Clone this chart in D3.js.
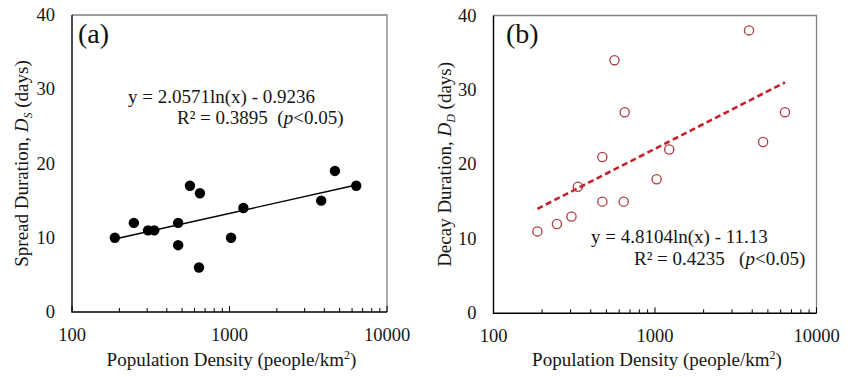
<!DOCTYPE html>
<html><head><meta charset="utf-8">
<script src="https://cdn.jsdelivr.net/npm/d3@7"></script>
<style>
html,body{margin:0;padding:0;background:#fff;}
svg{display:block;}
svg text{font-family:"Liberation Serif","Times New Roman",serif;}
</style></head>
<body>
<svg id="chart" width="850" height="377"></svg>
<script>
// ---- data ----
const density = [187, 247, 304, 333, 472, 472, 561, 649, 640, 1023, 1225, 3820, 4670, 6380];
const spreadDays = [10, 12, 11, 11, 12, 9, 17, 16, 6, 10, 14, 15, 19, 17];
const decayDays = [11, 12, 13, 17, 21, 15, 34, 27, 15, 18, 22, 38, 23, 27];
const fitSpread = [2.0571, -0.9236];
const fitDecay = [4.8104, -11.13];
const xTickValues = [100, 1000, 10000];
const yTickValues = [0, 10, 20, 30, 40];
const panelLabels = ["(a)", "(b)"];
const eqTexts = ["y = 2.0571ln(x) - 0.9236", "y = 4.8104ln(x) - 11.13"];
const r2Texts = [["R² = 0.3895  (", "p", "<0.05)"], ["R² = 0.4235   (", "p", "<0.05)"]];
const yTitles = [["Spread Duration, ", "D", "S", " (days)"], ["Decay Duration, ", "D", "D", " (days)"]];
const xTitle = "Population Density (people/km";

const svg = d3.select("#chart");
const ink = "#151515";

const panels = [
  {L: 72, R: 387, T: 15, B: 312, ys: spreadDays, fit: fitSpread, filled: true,
   eq: [128, 103], r2: [177, 124], yLabX: 28, lab: [78, 43]},
  {L: 493.5, R: 816.5, T: 15.5, B: 313.3, ys: decayDays, fit: fitDecay, filled: false,
   eq: [591, 243], r2: [634, 265], yLabX: 451, lab: [506, 43]}
];

panels.forEach((p, i) => {
  const g = svg.append("g");
  const x = d3.scaleLog().domain([100, 10000]).range([p.L, p.R]);
  const y = d3.scaleLinear().domain([0, 40]).range([p.B, p.T]);

  g.append("path")
    .attr("d", `M${p.L},${p.T}H${p.R}V${p.B}`)
    .attr("fill", "none").attr("stroke", "#808080").attr("stroke-width", 1.3);

  const minor = [];
  for (let d = 100; d < 10000; d *= 10) for (let k = 2; k <= 9; k++) minor.push(d * k);
  g.selectAll(".mt").data(minor).join("line")
    .attr("x1", d => x(d)).attr("x2", d => x(d))
    .attr("y1", p.B).attr("y2", p.B - 4)
    .attr("stroke", "#000").attr("stroke-width", 1);
  g.selectAll(".Mt").data(xTickValues).join("line")
    .attr("x1", d => x(d)).attr("x2", d => x(d))
    .attr("y1", p.B).attr("y2", p.B - 6)
    .attr("stroke", "#000").attr("stroke-width", 1);

  g.append("path")
    .attr("d", `M${p.L},${p.T}V${p.B}H${p.R}`)
    .attr("fill", "none").attr("stroke", "#000").attr("stroke-width", 1.4);

  g.selectAll(".xl").data(xTickValues).join("text")
    .attr("x", d => x(d)).attr("y", p.B + 29)
    .attr("text-anchor", "middle").attr("font-size", 18.5).attr("fill", ink)
    .text(d => d);
  g.selectAll(".yl").data(yTickValues).join("text")
    .attr("x", p.L - 17).attr("y", d => y(d) + 6)
    .attr("text-anchor", "end").attr("font-size", 18.5).attr("fill", ink)
    .text(d => d);

  const xt = g.append("text")
    .attr("x", (p.L + p.R) / 2 + 2).attr("y", 366)
    .attr("text-anchor", "middle").attr("font-size", 19).attr("fill", ink);
  xt.append("tspan").text(xTitle);
  xt.append("tspan").attr("font-size", 12).attr("dy", -7).text("2");
  xt.append("tspan").attr("dy", 7).text(")");

  const yt = g.append("text")
    .attr("transform", `translate(${p.yLabX},${(p.T + p.B) / 2}) rotate(-90)`)
    .attr("text-anchor", "middle").attr("font-size", 19).attr("fill", ink);
  const yl = yTitles[i];
  yt.append("tspan").text(yl[0]);
  yt.append("tspan").attr("font-style", "italic").text(yl[1]);
  yt.append("tspan").attr("font-style", "italic").attr("font-size", 12).attr("dy", 4).text(yl[2]);
  yt.append("tspan").attr("dy", -4).text(yl[3]);

  g.append("text").attr("x", p.lab[0]).attr("y", p.lab[1])
    .attr("font-size", 28).attr("fill", "#111").text(panelLabels[i]);

  const xs = d3.extent(density);
  const fitLine = xs.map(d => [x(d), y(p.fit[0] * Math.log(d) + p.fit[1])]);
  g.append("path").attr("d", d3.line()(fitLine))
    .attr("fill", "none")
    .attr("stroke", p.filled ? "#000" : "#c8202a")
    .attr("stroke-width", p.filled ? 1.4 : 2.6)
    .attr("stroke-dasharray", p.filled ? null : "6,3.5");

  const pts = density.map((d, j) => [d, p.ys[j]]);
  g.selectAll(".pt").data(pts).join("circle")
    .attr("cx", d => x(d[0])).attr("cy", d => y(d[1]))
    .attr("r", p.filled ? 5.2 : 4.6)
    .attr("fill", p.filled ? "#000" : "none")
    .attr("stroke", p.filled ? "none" : "#b03a3e")
    .attr("stroke-width", 1.3);

  g.append("text").attr("x", p.eq[0]).attr("y", p.eq[1])
    .attr("font-size", 19).attr("fill", ink).attr("xml:space", "preserve").text(eqTexts[i]);
  const r2 = g.append("text").attr("x", p.r2[0]).attr("y", p.r2[1])
    .attr("font-size", 19).attr("fill", ink).attr("xml:space", "preserve");
  r2.append("tspan").text(r2Texts[i][0]);
  r2.append("tspan").attr("font-style", "italic").text(r2Texts[i][1]);
  r2.append("tspan").text(r2Texts[i][2]);
});
</script>
</body></html>
